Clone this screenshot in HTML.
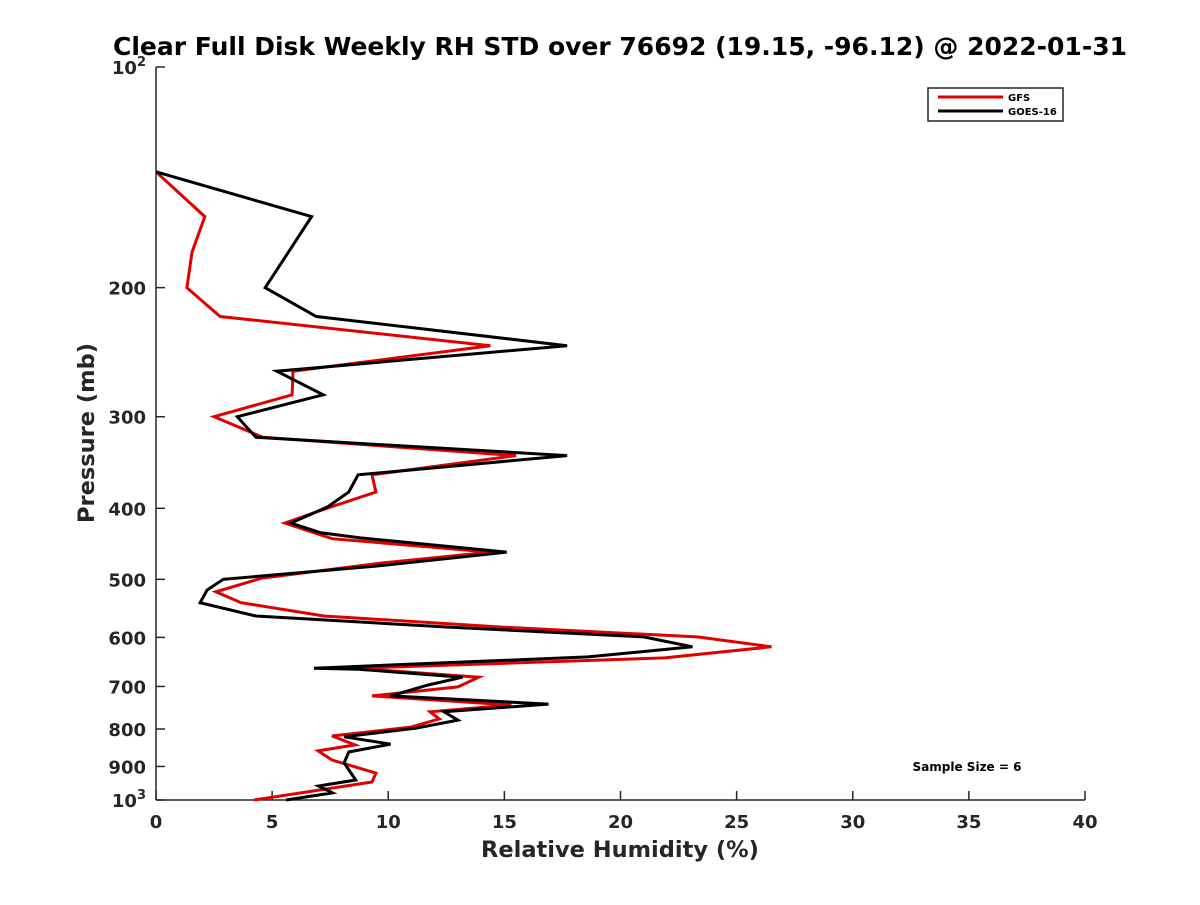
<!DOCTYPE html>
<html><head><meta charset="utf-8"><style>
body{margin:0;background:#fff}
svg text{font-family:"DejaVu Sans","Liberation Sans",sans-serif;font-weight:bold;fill:#262626}
</style></head><body>
<svg id="chart" width="1200" height="900" xmlns="http://www.w3.org/2000/svg">
<rect width="1200" height="900" fill="#fff"/>
<text x="620" y="55" text-anchor="middle" font-size="25" style="fill:#000">Clear Full Disk Weekly RH STD over 76692 (19.15, -96.12) @ 2022-01-31</text>
<g id="axes"></g>
<g id="series"></g>
<text x="620" y="857" text-anchor="middle" font-size="22.5">Relative Humidity (%)</text>
<text transform="translate(94,433) rotate(-90)" text-anchor="middle" font-size="22.5">Pressure (mb)</text>
<text x="967" y="771" text-anchor="middle" font-size="12" style="fill:#000">Sample Size = 6</text>
<g>
<rect x="928" y="88" width="135" height="33" fill="#fff" stroke="#262626" stroke-width="1.5"/>
<line x1="938" y1="97" x2="1003" y2="97" stroke="#e00000" stroke-width="3"/>
<text x="1008" y="101" font-size="10" style="fill:#000">GFS</text>
<line x1="938" y1="111" x2="1003" y2="111" stroke="#000" stroke-width="3"/>
<text x="1008" y="115" font-size="10" style="fill:#000">GOES-16</text>
</g>
</svg>
<script>
const xTicks=[0,5,10,15,20,25,30,35,40];
const yTicks=[200,300,400,500,600,700,800,900];
const gfsP=[139,160,179,200,219,240,260,280,300,320,339,360,380,402,419,440,459,475,498,520,538,561,581,599,618,640,661,680,701,721,742,758,775,795,818,841,857,882,919,945,1000];
const gfsRH=[0,2.1,1.55,1.33,2.76,14.4,5.9,5.86,2.5,4.6,15.5,9.3,9.47,7.15,5.55,7.58,14.4,9.73,4.56,2.58,3.66,7.23,14.9,23.3,26.5,21.9,8.57,13.9,13.0,9.3,15.3,11.8,12.2,11.0,7.58,8.57,6.98,7.58,9.47,9.3,4.22];
const goesP=[139,160,200,219,240,260,280,300,320,339,360,380,398,419,432,439,459,480,500,517,538,561,581,599,618,638,661,663,680,697,721,740,758,778,798,820,839,860,890,939,957,978,1000];
const goesRH=[0,6.7,4.7,6.9,17.7,5.2,7.2,3.5,4.3,17.7,8.7,8.3,7.4,5.8,7.1,8.8,15.1,9.4,2.9,2.2,1.9,4.3,12.6,21.0,23.1,18.6,6.8,8.7,13.2,11.7,10.1,16.9,12.4,13.0,11.2,8.1,10.1,8.3,8.1,8.6,7.0,7.6,5.6];
const L=156,R=1085,T=67,B=800;
const xs=v=>L+(v-0)/(40-0)*(R-L);
const ys=p=>T+(Math.log10(p)-2)/(3-2)*(B-T);
const NS='http://www.w3.org/2000/svg';
const ax=document.getElementById('axes'),se=document.getElementById('series');
function mk(t,a,par){const e=document.createElementNS(NS,t);for(const k in a)e.setAttribute(k,a[k]);par.appendChild(e);return e;}
const xl=mk('line',{x1:L,y1:B,x2:R,y2:B,stroke:'#262626','stroke-width':1.5},ax);


const yl=mk('line',{x1:L,y1:T,x2:L,y2:B,stroke:'#262626','stroke-width':1.5},ax);


xTicks.forEach(v=>{const x=xs(v);
 mk('line',{x1:x,y1:B,x2:x,y2:B-9,stroke:'#262626','stroke-width':1.5},ax);
 const t=mk('text',{x:x,y:B+28,'text-anchor':'middle','font-size':18},ax);t.textContent=v;
 
 });
yTicks.forEach(p=>{const y=ys(p);
 mk('line',{x1:L,y1:y,x2:L+9,y2:y,stroke:'#262626','stroke-width':1.5},ax);
 const t=mk('text',{x:L-10,y:y+7,'text-anchor':'end','font-size':18},ax);t.textContent=p;
 
 });
[[100,'2'],[1000,'3']].forEach(([p,e])=>{const y=ys(p);
 mk('line',{x1:L,y1:y,x2:L+9,y2:y,stroke:'#262626','stroke-width':1.5},ax);
 const t=mk('text',{x:L-10,y:y+7,'text-anchor':'end','font-size':18},ax);
 t.innerHTML='10<tspan dy="-8" font-size="13">'+e+'</tspan>';
 
 });
function line(P,V,col,name){
 const d=P.map((p,i)=>(i?'L':'M')+xs(V[i]).toFixed(1)+','+ys(p).toFixed(1)).join('');
 const e=mk('path',{d:d,fill:'none',stroke:col,'stroke-width':3,'stroke-linejoin':'miter'},se);
 
 }
line(gfsP,gfsRH,'#e00000','gfs-line');
line(goesP,goesRH,'#000','goes16-line');
</script>
</body></html>
